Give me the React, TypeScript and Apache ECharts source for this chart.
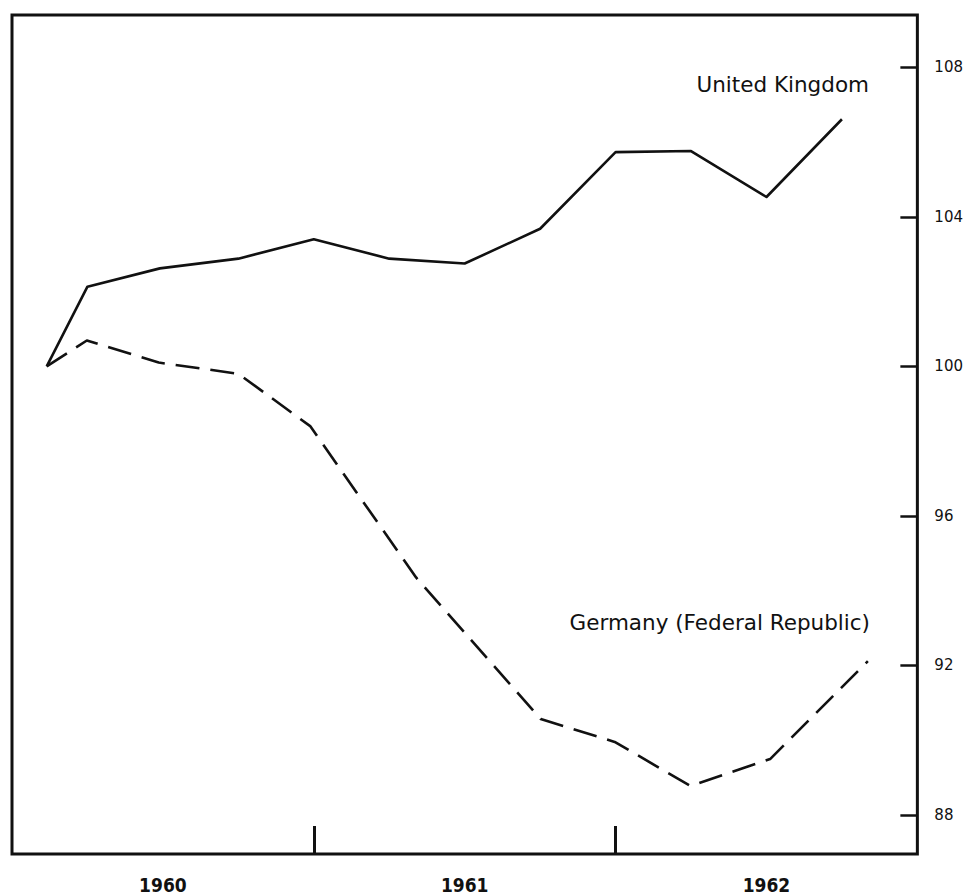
import React, { useEffect, useRef } from "react";
import * as echarts from "echarts";

// Quarterly index, base = 100 (x in fractional years)
const ukDates = [1960.115, 1960.25, 1960.49, 1960.75, 1961.0, 1961.25, 1961.5, 1961.75, 1962.0, 1962.25, 1962.5, 1962.75];
const ukValues = [100, 102.13, 102.62, 102.88, 103.4, 102.88, 102.75, 103.68, 105.73, 105.76, 104.53, 106.61];

const deDates = [1960.115, 1960.248, 1960.486, 1960.75, 1960.988, 1961.339, 1961.752, 1961.997, 1962.248, 1962.512, 1962.836];
const deValues = [100, 100.69, 100.1, 99.8, 98.4, 94.35, 90.56, 89.95, 88.77, 89.49, 92.11];

const yTicks = [88, 92, 96, 100, 104, 108];
const yearBoundaries = [1961, 1962];
const yearLabelPositions = [1960.5, 1961.5, 1962.5];
const yearLabels = ["1960", "1961", "1962"];

const seriesNames = ["United Kingdom", "Germany (Federal Republic)"];

const INK = "#111111";

export default function App() {
  const ref = useRef<HTMLDivElement>(null);

  useEffect(() => {
    if (!ref.current) return;
    const chart = echarts.init(ref.current, null, { renderer: "svg" });
    const uk = ukDates.map((d, i) => [d, ukValues[i]]);
    const de = deDates.map((d, i) => [d, deValues[i]]);

    chart.setOption({
      animation: false,
      backgroundColor: "#ffffff",
      grid: {
        left: 12,
        right: 45.5,
        top: 15,
        bottom: 36,
        show: true,
        borderColor: INK,
        borderWidth: 3,
        backgroundColor: "transparent",
      },
      xAxis: {
        type: "value",
        min: 1960,
        max: 1963,
        splitLine: { show: false },
        axisLine: { show: false },
        axisTick: {
          show: true,
          inside: true,
          length: 28,
          customValues: yearBoundaries,
          lineStyle: { color: INK, width: 3 },
        },
        axisLabel: {
          show: true,
          customValues: yearLabelPositions,
          formatter: (v: number) => {
            const idx = yearLabelPositions.findIndex((p) => Math.abs(p - v) < 1e-6);
            return idx >= 0 ? yearLabels[idx] : "";
          },
          margin: 21,
          color: INK,
          fontFamily: "'Liberation Sans Narrow', 'DejaVu Sans Condensed', sans-serif",
          fontWeight: "bold",
          fontSize: 19,
        },
      },
      yAxis: {
        type: "value",
        position: "right",
        min: 86.95,
        max: 109.4,
        splitLine: { show: false },
        axisLine: { show: false },
        axisTick: {
          show: true,
          inside: true,
          length: 17,
          customValues: yTicks,
          lineStyle: { color: INK, width: 2.5 },
        },
        axisLabel: {
          show: true,
          customValues: yTicks,
          margin: 17,
          color: INK,
          fontFamily: "'DejaVu Sans', sans-serif",
          fontSize: 15,
        },
      },
      series: [
        {
          name: seriesNames[0],
          type: "line",
          data: uk,
          symbol: "none",
          lineStyle: { color: INK, width: 2.6, join: "round" },
        },
        {
          name: seriesNames[1],
          type: "line",
          data: de,
          symbol: "none",
          lineStyle: { color: INK, width: 2.6, type: [24, 11], join: "round" },
        },
      ],
      graphic: [
        {
          type: "text",
          x: 869,
          y: 84,
          style: {
            text: seriesNames[0],
            fill: INK,
            font: "21.5px 'DejaVu Sans', sans-serif",
            textAlign: "right",
            textVerticalAlign: "middle",
          },
        },
        {
          type: "text",
          x: 870,
          y: 622,
          style: {
            text: seriesNames[1],
            fill: INK,
            font: "21.5px 'DejaVu Sans', sans-serif",
            textAlign: "right",
            textVerticalAlign: "middle",
          },
        },
      ],
    });

    return () => chart.dispose();
  }, []);

  return (
    <div
      ref={ref}
      style={{ position: "absolute", left: 0, top: 0, width: 966, height: 894 }}
    />
  );
}
